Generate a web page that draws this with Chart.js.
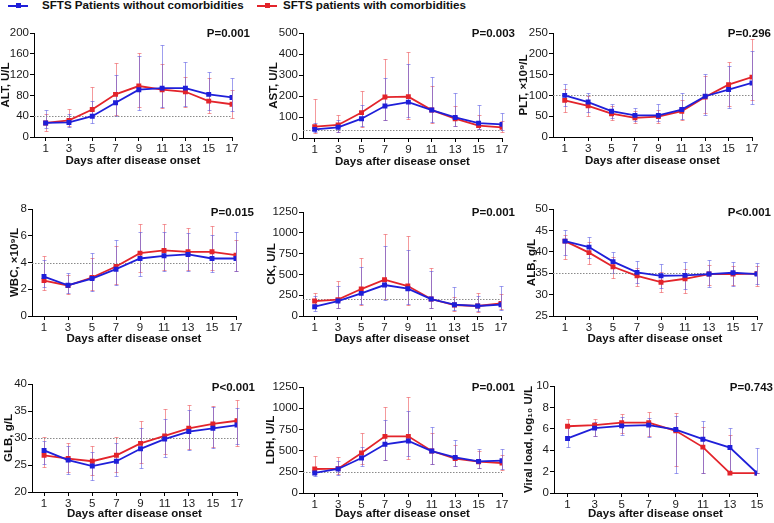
<!DOCTYPE html>
<html>
<head>
<meta charset="utf-8">
<script src="https://cdn.jsdelivr.net/npm/chart.js@4/dist/chart.umd.min.js"></script>
<style>
  body { margin: 0; background: #fff; width: 774px; height: 523px; position: relative; overflow: hidden; font-family: 'Liberation Sans', Arial, sans-serif; }
  canvas { position: absolute; }
  .lg { position: absolute; top: -2px; font-weight: bold; font-size: 11.6px; color: #111; white-space: nowrap; }
  .ln { position: absolute; top: 5px; height: 2px; width: 20px; }
  .ln i { position: absolute; left: 8px; top: -2px; width: 5px; height: 5px; }
</style>
</head>
<body>
<div class="ln" style="left:8px;background:#1f1fd9"><i style="background:#1f1fd9"></i></div>
<div class="lg" style="left:42px">SFTS Patients without comorbidities</div>
<div class="ln" style="left:257px;background:#e3242b"><i style="background:#e3242b"></i></div>
<div class="lg" style="left:283px">SFTS patients with comorbidities</div>

<script>
const days17 = [1, 3, 5, 7, 9, 11, 13, 15, 17];
const days15 = [1, 3, 5, 7, 9, 11, 13, 15];

// 合併症なし(青) / あり(赤)：中央値と上下のエラーバー
const altNo = [27, 28, 40, 66, 91, 94, 94, 82, 76];
const altNoLo = [17, 20, 27, 40, 52, 57, 59, 52, 50];
const altNoHi = [52, 44, 70, 119, 155, 177, 145, 125, 113];
const altWith = [27, 32, 53, 82, 98, 91, 87, 69, 63];
const altWithLo = [12, 21, 39, 42, 58, 56, 58, 46, 37];
const altWithHi = [44, 53, 97, 142, 161, 140, 115, 113, 91];

const astNo = [41, 51, 92, 152, 171, 133, 98, 71, 65];
const astNoLo = [27, 30, 57, 87, 100, 75, 59, 43, 37];
const astNoHi = [70, 84, 156, 284, 352, 290, 214, 156, 119];
const astWith = [54, 62, 121, 195, 197, 133, 92, 59, 51];
const astWithLo = [24, 30, 54, 84, 92, 71, 56, 41, 29];
const astWithHi = [186, 108, 224, 376, 411, 249, 154, 111, 79];

const pltNo = [100, 84, 62, 52, 52, 66, 98, 114, 130];
const pltNoLo = [74, 60, 46, 39, 38, 44, 53, 70, 79];
const pltNoHi = [127, 106, 80, 70, 79, 106, 151, 170, 207];
const pltWith = [88, 75, 56, 46, 49, 62, 96, 126, 144];
const pltWithLo = [61, 50, 40, 34, 34, 40, 58, 74, 90];
const pltWithHi = [115, 98, 75, 63, 66, 90, 146, 181, 235];

const wbcNo = [2.95, 2.3, 2.8, 3.5, 4.3, 4.5, 4.6, 4.3, 4.3];
const wbcNoLo = [2.15, 1.7, 1.9, 2.3, 3.0, 3.4, 3.4, 3.3, 3.4];
const wbcNoHi = [4.2, 3.2, 4.7, 5.65, 6.3, 6.3, 6.2, 6.05, 6.3];
const wbcWith = [2.65, 2.28, 2.88, 3.7, 4.7, 4.9, 4.8, 4.8, 4.55];
const wbcWithLo = [1.95, 1.65, 1.95, 2.4, 3.3, 3.45, 3.45, 3.45, 3.4];
const wbcWithHi = [4.5, 3.1, 4.3, 5.25, 6.9, 6.9, 6.6, 6.75, 5.7];

const ckNo = [112, 180, 272, 372, 328, 204, 136, 120, 136];
const ckNoLo = [60, 100, 140, 196, 140, 100, 72, 60, 72];
const ckNoHi = [240, 356, 584, 836, 788, 540, 344, 240, 356];
const ckWith = [180, 196, 324, 436, 360, 204, 132, 120, 152];
const ckWithLo = [140, 100, 136, 200, 136, 96, 64, 52, 80];
const ckWithHi = [272, 420, 692, 980, 960, 580, 232, 272, 264];

const albNo = [42.5, 41.1, 37.7, 35.2, 34.4, 34.5, 34.8, 35.1, 34.8];
const albNoLo = [39.3, 38.5, 35.0, 32.8, 31.5, 31.3, 31.7, 32.0, 32.5];
const albNoHi = [45.0, 43.4, 40.0, 37.9, 37.1, 37.7, 38.0, 37.7, 37.3];
const albWith = [42.5, 39.8, 36.5, 34.4, 32.9, 33.7, 34.8, 34.8, 34.9];
const albWithLo = [38.3, 37.2, 33.8, 31.9, 30.5, 30.3, 32.3, 32.3, 31.9];
const albWithHi = [44.0, 42.2, 38.8, 36.2, 35.2, 35.9, 37.0, 36.6, 36.6];

const glbNo = [27.7, 25.9, 24.8, 25.7, 28.0, 29.8, 31.2, 31.8, 32.4];
const glbNoLo = [25.1, 23.3, 22.3, 22.9, 24.4, 26.4, 27.7, 28.2, 28.8];
const glbNoHi = [29.5, 28.6, 27.4, 29.1, 31.9, 33.6, 35.1, 35.7, 35.6];
const glbWith = [26.8, 26.2, 25.7, 26.8, 29.0, 30.4, 31.8, 32.6, 33.2];
const glbWithLo = [24.6, 23.7, 23.1, 23.7, 25.3, 27.0, 28.0, 28.4, 28.5];
const glbWithHi = [30.2, 29.1, 28.5, 30.2, 33.1, 35.4, 36.1, 35.9, 37.1];

const ldhNo = [236, 283, 413, 574, 613, 495, 420, 373, 381];
const ldhNoLo = [197, 216, 322, 393, 432, 346, 322, 291, 283];
const ldhNoHi = [290, 381, 542, 865, 967, 778, 625, 519, 519];
const ldhWith = [283, 287, 472, 668, 668, 495, 405, 369, 354];
const ldhWithLo = [228, 220, 346, 390, 400, 346, 314, 295, 275];
const ldhWithHi = [436, 425, 708, 1010, 1128, 708, 566, 491, 452];

const vlNo = [5.1, 6.06, 6.27, 6.34, 5.93, 5.03, 4.25, 1.86];
const vlNoLo = [4.29, 5.34, 5.4, 5.22, 1.86, 1.86, 1.86, 1.86];
const vlNoHi = [6.15, 6.6, 7.1, 7.0, 7.24, 6.74, 6.12, 4.25];
const vlWith = [6.24, 6.34, 6.58, 6.58, 5.81, 4.29, 1.86, 1.86];
const vlWithLo = [5.28, 5.3, 5.6, 5.3, 2.5, 1.86, 1.86, 1.86];
const vlWithHi = [6.9, 6.96, 7.4, 7.58, 7.52, 6.2, 5.4, 1.86];

// [min, max, step]
const altAxis = [0, 200, 40];
const astAxis = [0, 500, 100];
const pltAxis = [0, 250, 50];
const wbcAxis = [0, 8, 2];
const ckAxis = [0, 1250, 250];
const albAxis = [25, 50, 5];
const glbAxis = [20, 40, 5];
const ldhAxis = [0, 1250, 250];
const vlAxis = [0, 10, 2];

const yTitles = ['ALT, U/L', 'AST, U/L', 'PLT, ×10⁹/L', 'WBC, ×10⁹/L', 'CK, U/L', 'ALB, g/L', 'GLB, g/L', 'LDH, U/L', 'Viral load, log₁₀ U/L'];
const refLines = [40, 40, 100, 4, 200, 35, 30, 245, null];
const pValues = ['P=0.001', 'P=0.003', 'P=0.296', 'P=0.015', 'P=0.001', 'P<0.001', 'P<0.001', 'P=0.001', 'P=0.743'];
const xTitle = 'Days after disease onset';

const BLUE = '#1f1fd9', RED = '#e3242b';
const BLUE_BAR = 'rgba(80,80,225,0.55)', RED_BAR = 'rgba(235,70,75,0.55)';
const FONT = "'Liberation Sans', Arial, sans-serif";

const panels = [
  { days: days17, no: [altNo, altNoLo, altNoHi], w: [altWith, altWithLo, altWithHi], axis: altAxis },
  { days: days17, no: [astNo, astNoLo, astNoHi], w: [astWith, astWithLo, astWithHi], axis: astAxis },
  { days: days17, no: [pltNo, pltNoLo, pltNoHi], w: [pltWith, pltWithLo, pltWithHi], axis: pltAxis },
  { days: days17, no: [wbcNo, wbcNoLo, wbcNoHi], w: [wbcWith, wbcWithLo, wbcWithHi], axis: wbcAxis },
  { days: days17, no: [ckNo, ckNoLo, ckNoHi], w: [ckWith, ckWithLo, ckWithHi], axis: ckAxis },
  { days: days17, no: [albNo, albNoLo, albNoHi], w: [albWith, albWithLo, albWithHi], axis: albAxis },
  { days: days17, no: [glbNo, glbNoLo, glbNoHi], w: [glbWith, glbWithLo, glbWithHi], axis: glbAxis },
  { days: days17, no: [ldhNo, ldhNoLo, ldhNoHi], w: [ldhWith, ldhWithLo, ldhWithHi], axis: ldhAxis },
  { days: days15, no: [vlNo, vlNoLo, vlNoHi], w: [vlWith, vlWithLo, vlWithHi], axis: vlAxis },
];

// canvasLeft, canvasRight, plotLeft, plotRight, plotTop, plotBottom, pRight, pY, xTitleOffset
const layout = [
  [-1, 258, 34, 232, 33, 137, 250, 34, 24],
  [267, 516, 303, 502, 33, 138, 515, 34, 24],
  [517, 774, 553, 752, 33, 137, 771, 34, 24],
  [8, 258, 32, 236, 209, 316, 254, 213, 23],
  [265, 516, 303, 501, 212, 316, 515, 213, 23],
  [525, 774, 553, 757, 209, 316, 771, 213, 23],
  [2, 258, 32, 237, 384, 492, 255, 388, 22],
  [264, 516, 303, 502, 387, 493, 515, 388, 21],
  [522, 774, 554, 757, 386, 493, 773, 388, 21],
];

const errorBars = {
  id: 'errorBars',
  beforeDatasetsDraw(chart) {
    const { ctx, scales: { x, y } } = chart;
    const sets = chart.data.datasets.slice().reverse();
    sets.forEach(ds => {
      ctx.save();
      ctx.strokeStyle = ds.barColor;
      ctx.lineWidth = 1;
      ds.data.forEach((pt, i) => {
        const px = Math.round(x.getPixelForValue(pt.x)) + 0.5;
        const top = Math.round(y.getPixelForValue(ds.hi[i])) + 0.5;
        const bot = Math.round(y.getPixelForValue(ds.lo[i])) + 0.5;
        ctx.beginPath();
        ctx.moveTo(px, top); ctx.lineTo(px, bot);
        ctx.moveTo(px - 2, top); ctx.lineTo(px + 2, top);
        ctx.moveTo(px - 2, bot); ctx.lineTo(px + 2, bot);
        ctx.stroke();
      });
      ctx.restore();
    });
  }
};

const refLine = {
  id: 'refLine',
  beforeDatasetsDraw(chart, args, opts) {
    if (opts.value == null) return;
    const { ctx, chartArea, scales: { y } } = chart;
    const py = Math.round(y.getPixelForValue(opts.value)) + 0.5;
    ctx.save();
    ctx.strokeStyle = '#8a8a8a';
    ctx.lineWidth = 1;
    ctx.setLineDash([1.5, 1.5]);
    ctx.beginPath();
    ctx.moveTo(chartArea.left, py);
    ctx.lineTo(chartArea.right, py);
    ctx.stroke();
    ctx.restore();
  }
};

const pLabel = {
  id: 'pLabel',
  afterDraw(chart, args, opts) {
    const { ctx } = chart;
    ctx.save();
    ctx.font = `bold 11.5px ${FONT}`;
    ctx.fillStyle = '#111';
    ctx.textAlign = 'right';
    ctx.textBaseline = 'middle';
    ctx.fillText(opts.text, opts.x, opts.y);
    ctx.restore();
  }
};

panels.forEach((p, k) => {
  const [cl, cr, L, R, T, B, pR, pY, xo] = layout[k];
  const ct = T - 20;
  const ch = Math.round(B + xo + 7.2 - ct);
  const cv = document.createElement('canvas');
  cv.width = cr - cl; cv.height = ch;
  cv.style.left = cl + 'px'; cv.style.top = ct + 'px';
  cv.style.width = (cr - cl) + 'px'; cv.style.height = ch + 'px';
  document.body.appendChild(cv);

  const mk = (arr, i, d) => ({ x: d, y: arr[i] });
  const axisCommon = {
    border: { display: true, color: '#000', width: 1 },
    grid: { display: true, drawOnChartArea: false, drawTicks: true, tickLength: 4, color: '#000' },
  };

  new Chart(cv, {
    type: 'line',
    data: {
      datasets: [
        {
          label: 'SFTS Patients without comorbidities',
          data: p.days.map((d, i) => mk(p.no[0], i, d)),
          lo: p.no[1], hi: p.no[2], barColor: BLUE_BAR,
          borderColor: BLUE, backgroundColor: BLUE, borderWidth: 1.8,
          pointStyle: 'rect', pointRadius: 2.2, tension: 0,
        },
        {
          label: 'SFTS patients with comorbidities',
          data: p.days.map((d, i) => mk(p.w[0], i, d)),
          lo: p.w[1], hi: p.w[2], barColor: RED_BAR,
          borderColor: RED, backgroundColor: RED, borderWidth: 1.8,
          pointStyle: 'rect', pointRadius: 2.2, tension: 0,
        },
      ]
    },
    options: {
      responsive: false,
      animation: false,
      events: [],
      layout: { padding: { top: T - ct, right: cr - R, left: 0, bottom: 0 } },
      plugins: {
        legend: { display: false },
        tooltip: { enabled: false },
        refLine: { value: refLines[k] },
        pLabel: { text: pValues[k], x: pR - cl, y: pY - ct },
      },
      scales: {
        x: {
          ...axisCommon,
          type: 'linear',
          min: 0,
          max: p.days[p.days.length - 1],
          afterBuildTicks: s => { s.ticks = p.days.map(v => ({ value: v })); },
          afterFit: s => { s.height = ct + ch - B; },
          ticks: { color: '#1a1a1a', font: { family: FONT, size: 11.5 }, padding: 1, maxRotation: 0, autoSkip: false, callback: v => String(v) },
          title: { display: true, text: xTitle, color: '#111', font: { family: FONT, size: 11.5, weight: 'bold' }, padding: 0 },
        },
        y: {
          ...axisCommon,
          min: p.axis[0],
          max: p.axis[1],
          afterFit: s => { s.width = L - cl; },
          ticks: { stepSize: p.axis[2], color: '#1a1a1a', font: { family: FONT, size: 11.5 }, padding: 1, callback: v => String(v) },
          title: { display: true, text: yTitles[k], color: '#111', font: { family: FONT, size: 11.5, weight: 'bold' }, padding: 0 },
        },
      },
    },
    plugins: [errorBars, refLine, pLabel],
  });
});
</script>
</body>
</html>
